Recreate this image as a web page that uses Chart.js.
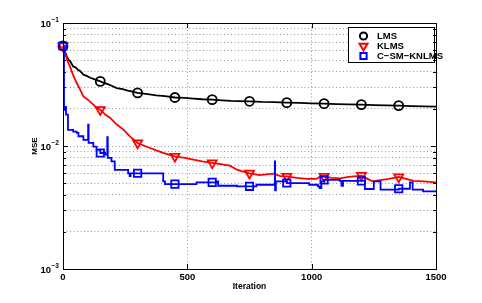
<!DOCTYPE html>
<html>
<head>
<meta charset="utf-8">
<script src="https://cdn.jsdelivr.net/npm/chart.js@4"></script>
<style>
  html, body { margin: 0; padding: 0; background: #fff; }
  canvas { display: block; }
</style>
</head>
<body>
<canvas id="mseChart" width="482" height="303"></canvas>
<script>
// LMS learning curve (iteration, MSE)
const lmsIter = [0, 5, 10, 15, 22, 30, 41, 50, 60, 70, 82, 95, 110, 125, 150, 165, 180, 200, 216, 240, 260, 280, 300, 340, 375, 410, 450, 490, 525, 560, 600, 640, 675, 710, 750, 800, 850, 900, 950, 1000, 1050, 1100, 1150, 1200, 1250, 1300, 1350, 1400, 1450, 1500];
const lmsMse = [0.065, 0.061, 0.057, 0.0535, 0.0505, 0.0484, 0.0443, 0.0436, 0.0417, 0.0405, 0.038, 0.0372, 0.0359, 0.035, 0.0335, 0.0326, 0.0318, 0.0306, 0.0296, 0.029, 0.0282, 0.0277, 0.027, 0.0264, 0.0258, 0.0254, 0.0248, 0.0246, 0.0243, 0.024, 0.0238, 0.0235, 0.0233, 0.0232, 0.0231, 0.0228, 0.0227, 0.0225, 0.0224, 0.0222, 0.0221, 0.0219, 0.0218, 0.0217, 0.0215, 0.0214, 0.0213, 0.0211, 0.021, 0.0209];

// KLMS learning curve
const klmsIter = [0, 5, 10, 18, 28, 40, 55, 68, 82, 100, 122, 135, 150, 170, 190, 215, 243, 270, 300, 325, 350, 375, 400, 425, 450, 490, 524, 560, 600, 640, 671, 700, 725, 750, 790, 845, 875, 900, 940, 980, 1018, 1032, 1050, 1080, 1113, 1150, 1200, 1225, 1247, 1275, 1310, 1350, 1380, 1410, 1450, 1500];
const klmsMse = [0.065, 0.06, 0.0552, 0.049, 0.0444, 0.038, 0.0325, 0.029, 0.0253, 0.0238, 0.0217, 0.0205, 0.0197, 0.018, 0.0169, 0.015, 0.0136, 0.0119, 0.01057, 0.0101, 0.00963, 0.0092, 0.00883, 0.0085, 0.00823, 0.008, 0.00774, 0.0075, 0.00728, 0.0071, 0.00692, 0.00642, 0.0062, 0.006, 0.0058, 0.00596, 0.0057, 0.00566, 0.0055, 0.0054, 0.0054, 0.0056, 0.00566, 0.0055, 0.00545, 0.0056, 0.00575, 0.0054, 0.00515, 0.00527, 0.0054, 0.0056, 0.0054, 0.0052, 0.00515, 0.00506];

// C-SM-KNLMS learning curve (each level held until the next iteration listed)
const csmIter = [0, 4, 7, 10, 12, 20, 41, 55, 62, 82, 101, 103, 122, 135, 150, 169, 178, 180, 195, 208, 262, 268, 272, 300, 403, 410, 450, 537, 600, 618, 624, 700, 750, 778, 852, 853, 856, 900, 990, 1025, 1032, 1039, 1050, 1113, 1120, 1126, 1200, 1214, 1250, 1277, 1350, 1395, 1406, 1448, 1500];
const csmMse = [0.065, 0.0208, 0.0197, 0.0208, 0.018, 0.0135, 0.0131, 0.0128, 0.012, 0.0112, 0.0149, 0.0106, 0.0099, 0.0093, 0.00877, 0.0085, 0.0118, 0.008, 0.0075, 0.0064, 0.006, 0.0057, 0.006, 0.006, 0.00515, 0.0049, 0.0049, 0.00506, 0.00506, 0.00515, 0.00475, 0.0047, 0.0047, 0.00484, 0.0075, 0.00435, 0.00515, 0.005, 0.00484, 0.0047, 0.00455, 0.00515, 0.0053, 0.0052, 0.00475, 0.0052, 0.0052, 0.00447, 0.00515, 0.00442, 0.00449, 0.00506, 0.00442, 0.00428, 0.00428];

const markerIters = [0, 150, 300, 450, 600, 750, 900, 1050, 1200, 1350];
const xTicks = [0, 500, 1000, 1500];
const yDecades = [0.001, 0.01, 0.1];
const yExponents = ['\u22123', '\u22122', '\u22121'];
const yGrid = [0.001, 0.002, 0.003, 0.004, 0.005, 0.006, 0.007, 0.008, 0.009,
               0.01, 0.02, 0.03, 0.04, 0.05, 0.06, 0.07, 0.08, 0.09, 0.1];

const FONT = '"Liberation Sans", Arial, sans-serif';
const toPoints = (xs, ys) => xs.map((x, i) => ({ x: x, y: ys[i] }));
const markerSize = r => ctx => markerIters.includes(ctx.raw && ctx.raw.x) ? r : 0;

// MATLAB-like box, inward ticks, superscript decade labels and legend
const matlabAxes = {
  id: 'matlabAxes',
  afterDatasetsDraw(chart) {
    const { ctx, chartArea: a, scales: { x, y } } = chart;
    ctx.save();

    // legend
    const lx = 348.5, ly = 27.5, lw = 86, lh = 35;
    ctx.fillStyle = '#fff';
    ctx.fillRect(lx, ly, lw, lh);
    ctx.strokeStyle = '#000';
    ctx.lineWidth = 1;
    ctx.strokeRect(lx, ly, lw, lh);
    chart.data.datasets.forEach((ds, i) => {
      const cy = 36 + i * 10;
      ctx.strokeStyle = ds.borderColor;
      ctx.fillStyle = 'rgba(0,0,0,0)';
      ctx.lineWidth = 2;
      Chart.helpers.drawPoint(ctx, {
        pointStyle: ds.pointStyle,
        rotation: ds.pointRotation || 0,
        radius: ds.legendRadius,
        borderWidth: 2
      }, 363.5, cy);
      ctx.fillStyle = '#000';
      ctx.font = 'bold 9.5px ' + FONT;
      ctx.textAlign = 'left';
      ctx.textBaseline = 'middle';
      ctx.fillText(ds.label, 377, cy + 0.5);
    });

    // axes box
    ctx.strokeStyle = '#000';
    ctx.lineWidth = 1;
    ctx.strokeRect(a.left + 0.5, a.top + 0.5, a.right - a.left, a.bottom - a.top);
    const line = (x1, y1, x2, y2) => {
      ctx.beginPath(); ctx.moveTo(x1, y1); ctx.lineTo(x2, y2); ctx.stroke();
    };
    yGrid.forEach(v => {
      const py = Math.round(y.getPixelForValue(v)) + 0.5;
      const len = yDecades.includes(v) ? 5 : 3;
      line(a.left, py, a.left + len, py);
      line(a.right - len, py, a.right, py);
    });
    xTicks.forEach(v => {
      const px = Math.round(x.getPixelForValue(v)) + 0.5;
      line(px, a.bottom, px, a.bottom - 5);
      line(px, a.top, px, a.top + 5);
    });

    // decade labels 10^k
    ctx.fillStyle = '#000';
    yDecades.forEach((v, i) => {
      const py = y.getPixelForValue(v);
      ctx.font = 'bold 9.5px ' + FONT;
      ctx.textAlign = 'right';
      ctx.textBaseline = 'middle';
      ctx.fillText('10', 51, py + 1);
      ctx.font = 'bold 6.5px ' + FONT;
      ctx.textAlign = 'left';
      ctx.fillText(yExponents[i], 51.5, py - 3);
    });
    ctx.restore();
  }
};

new Chart(document.getElementById('mseChart'), {
  type: 'line',
  data: {
    datasets: [{
      label: 'LMS',
      data: toPoints(lmsIter, lmsMse),
      borderColor: '#000000',
      borderWidth: 1.8,
      pointStyle: 'circle',
      legendRadius: 3.6,
      pointRadius: markerSize(4.5),
      pointBorderWidth: 1.8,
      pointBackgroundColor: 'rgba(0,0,0,0)',
      order: 3
    }, {
      label: 'KLMS',
      data: toPoints(klmsIter, klmsMse),
      borderColor: '#ff0000',
      borderWidth: 1.8,
      pointStyle: 'triangle',
      pointRotation: 180,
      legendRadius: 4.6,
      pointRadius: markerSize(5.2),
      pointBorderWidth: 1.8,
      pointBackgroundColor: 'rgba(0,0,0,0)',
      order: 2
    }, {
      label: 'C\u2212SM\u2212KNLMS',
      data: toPoints(csmIter, csmMse),
      stepped: 'before',
      borderColor: '#0000ff',
      borderWidth: 1.8,
      pointStyle: 'rect',
      legendRadius: 4.4,
      pointRadius: markerSize(5.2),
      pointBorderWidth: 1.8,
      pointBackgroundColor: 'rgba(0,0,0,0)',
      order: 1
    }]
  },
  options: {
    responsive: false,
    animation: false,
    events: [],
    devicePixelRatio: 1,
    layout: { padding: { left: 0, right: 46, top: 23, bottom: 0 } },
    plugins: { legend: { display: false }, tooltip: { enabled: false } },
    elements: { line: { tension: 0 } },
    datasets: { line: { clip: 10 } },
    scales: {
      x: {
        type: 'linear',
        min: 0,
        max: 1500,
        afterBuildTicks: s => { s.ticks = xTicks.map(v => ({ value: v })); },
        afterFit: s => { s.height = 34; },
        ticks: {
          color: '#000',
          font: { family: FONT, size: 9.5, weight: 'bold' },
          padding: 3,
          maxRotation: 0,
          callback: v => String(v)
        },
        grid: { color: 'rgba(0,0,0,0.4)', drawTicks: false },
        border: { display: false, dash: [1, 2.5] },
        title: {
          display: true,
          text: 'Iteration',
          color: '#000',
          font: { family: FONT, size: 8.5, weight: 'bold' },
          padding: { top: 0, bottom: 11 }
        }
      },
      y: {
        type: 'logarithmic',
        min: 0.001,
        max: 0.1,
        afterBuildTicks: s => { s.ticks = yGrid.map(v => ({ value: v })); },
        afterFit: s => { s.width = 63; },
        ticks: { display: false },
        grid: { color: 'rgba(0,0,0,0.4)', drawTicks: false },
        border: { display: false, dash: [1, 2.5] },
        title: {
          display: true,
          text: 'MSE',
          color: '#000',
          font: { family: FONT, size: 8, weight: 'bold' },
          padding: { top: 30, bottom: 0 }
        }
      }
    }
  },
  plugins: [matlabAxes]
});
</script>
</body>
</html>
